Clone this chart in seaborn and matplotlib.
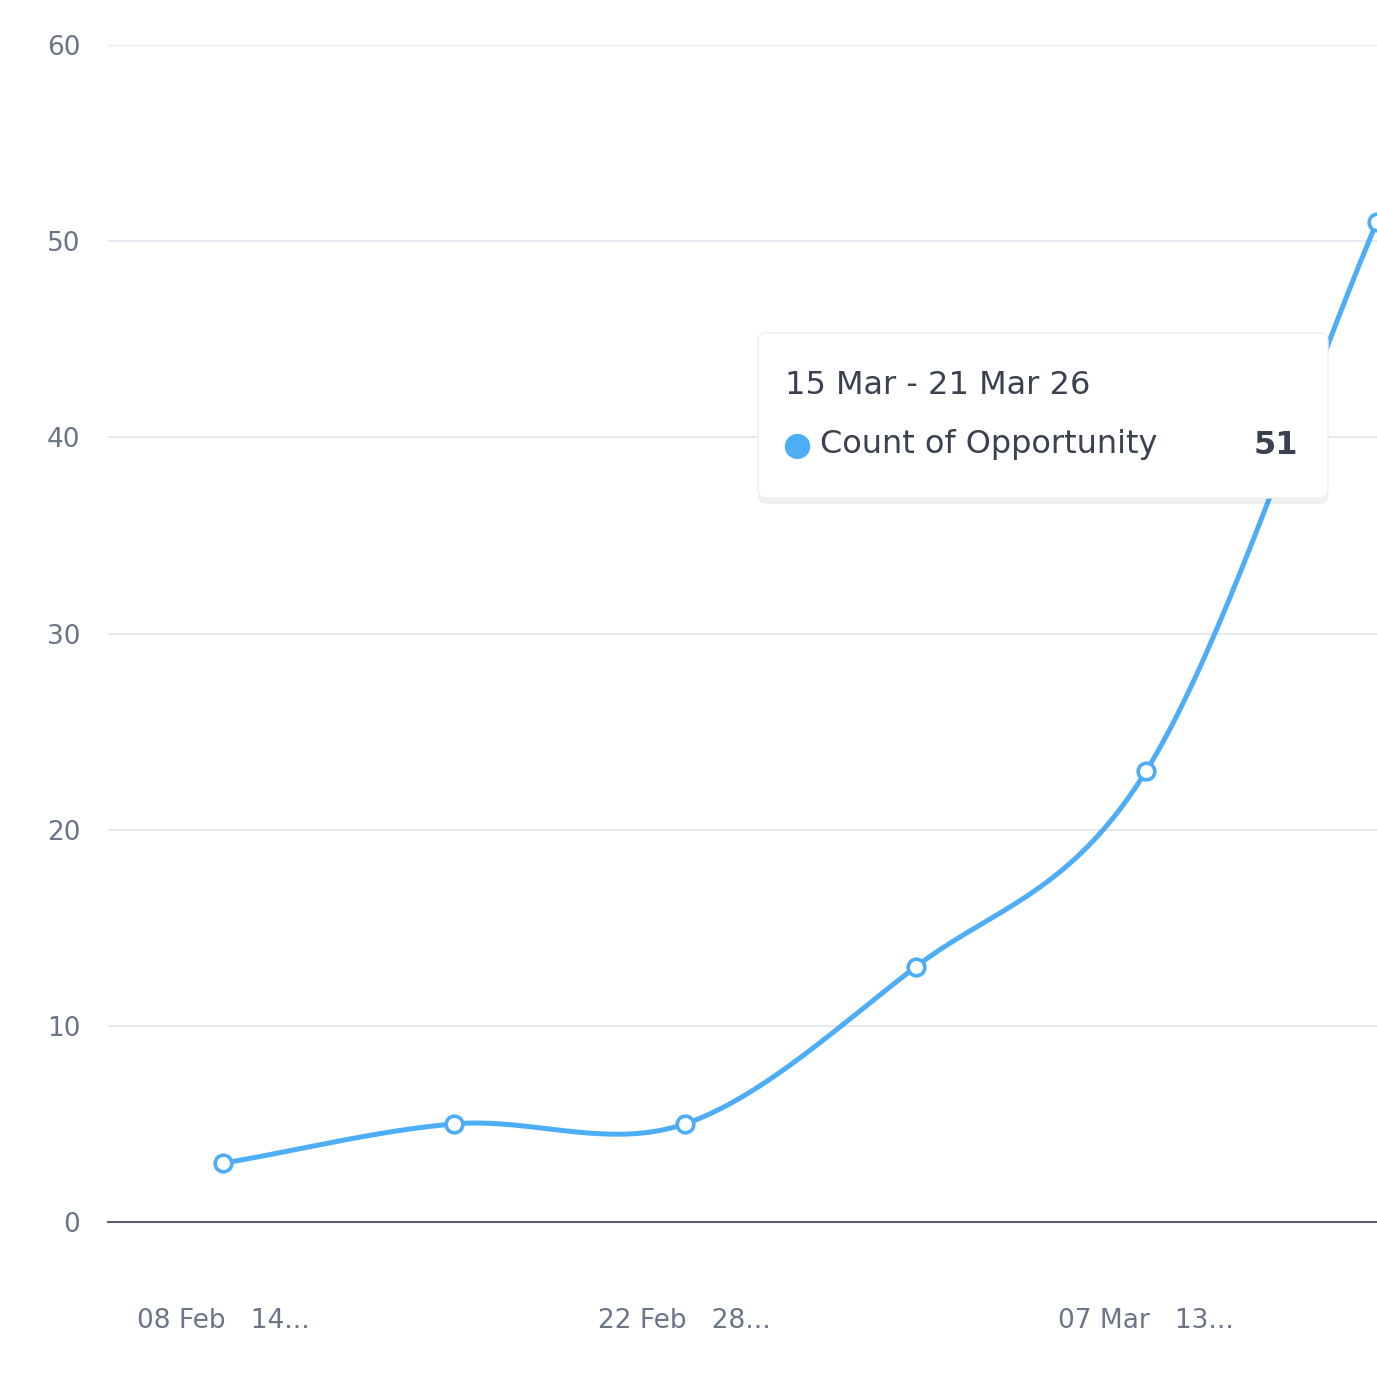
import numpy as np
import matplotlib
matplotlib.use("Agg")
import matplotlib.pyplot as plt
import seaborn as sns
from matplotlib.patches import FancyBboxPatch
import pandas as pd

weeks = ["08 Feb", "14 Feb", "22 Feb", "28 Feb", "07 Mar", "15 Mar"]
counts = [3, 5, 5, 13, 23, 51]
tick_labels = ["08 Feb   14...", "22 Feb   28...", "07 Mar   13..."]
yticks = [0, 10, 20, 30, 40, 50, 60]

sns.set_theme(style="white")
plt.rcParams['font.family'] = ['DejaVu Sans']
blue = "#4dadf7"
grey = "#6b7588"

fig = plt.figure(figsize=(13.77, 14), dpi=100)
ax = fig.add_axes([108/1377, 1-1222/1400, 1-108/1377, (1222-45)/1400])

x = np.arange(len(counts))
y = np.array(counts, float)
# smooth rendering (cubic Hermite with Catmull-Rom tangents)
m = np.gradient(y, x)
xs, ys = [], []
for i in range(len(x)-1):
    t = np.linspace(0, 1, 40)
    h00 = 2*t**3-3*t**2+1; h10 = t**3-2*t**2+t; h01 = -2*t**3+3*t**2; h11 = t**3-t**2
    xs.append(x[i]+t); ys.append(h00*y[i]+h10*m[i]+h01*y[i+1]+h11*m[i+1])
df = pd.DataFrame({"x": np.concatenate(xs), "y": np.concatenate(ys)})
sns.lineplot(data=df, x="x", y="y", ax=ax, color=blue, lw=3.6, sort=False, clip_on=False)
ax.plot(x, y, "o", ms=12, mfc="white", mec=blue, mew=2.6, clip_on=False, zorder=5)

ax.set_xlim(-0.5, 5)
ax.set_ylim(0, 60)
ax.set_yticks(yticks)
ax.set_yticklabels([str(v) for v in yticks], color=grey, fontsize=19)
ax.yaxis.grid(True, color="#e1e7f0", lw=1.3)
ax.tick_params(axis="y", length=0, pad=20)
ax.set_xticks([-0.5, 1.5, 3.5])
ax.set_xticklabels([])
ax.set_xticks([0, 2, 4], minor=True)
ax.set_xticklabels(tick_labels, minor=True, color=grey, fontsize=19)
ax.tick_params(axis="x", which="major", length=9, width=1.5, color="#5a6070", direction="out")
ax.tick_params(axis="x", which="minor", length=0, pad=62)
for s in ["top", "right", "left"]:
    ax.spines[s].set_visible(False)
ax.spines["bottom"].set_color("#5a6070")
ax.spines["bottom"].set_linewidth(1.5)
ax.set_xlabel(""); ax.set_ylabel("")

# tooltip
W, H = 1377, 1400
x0, y0, x1, y1 = 758, 333, 1328, 498
shadow = FancyBboxPatch((x0/W, 1-(y1+6)/H), (x1-x0)/W, (y1-y0)/H,
                        boxstyle="round,pad=0,rounding_size=0.006", transform=fig.transFigure,
                        fc="#000000", alpha=0.06, ec="none", zorder=9)
fig.patches.append(shadow)
box = FancyBboxPatch((x0/W, 1-y1/H), (x1-x0)/W, (y1-y0)/H,
                     boxstyle="round,pad=0,rounding_size=0.006", transform=fig.transFigure,
                     fc="white", ec="#eeeeee", zorder=10)
fig.patches.append(box)
fig.text(785/W, 1-385/H, "15 Mar - 21 Mar 26", fontsize=23, color="#3a4150", va="center", zorder=11)
fig.text(797/W, 1-445/H, "●", fontsize=24, color=blue, va="center", ha="center", zorder=11)
fig.text(820/W, 1-445/H, "Count of Opportunity", fontsize=23, color="#3a4150", va="center", zorder=11)
fig.text(1298/W, 1-445/H, str(counts[-1]), fontsize=23, color="#3a4150", va="center", ha="right",
         fontweight="bold", zorder=11)

fig.savefig("out.png", dpi=100)
